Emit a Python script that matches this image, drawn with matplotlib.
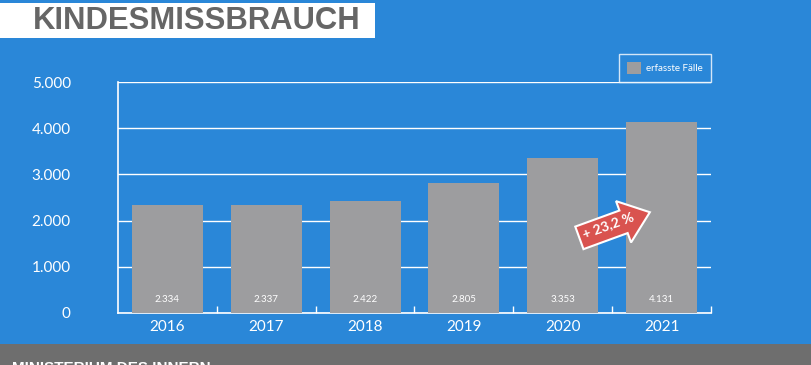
import matplotlib
matplotlib.use("Agg")
import matplotlib.pyplot as plt
import matplotlib.patches as mpatches
import matplotlib.transforms as mtransforms

years = ["2016", "2017", "2018", "2019", "2020", "2021"]
cases = [2334, 2337, 2422, 2805, 3353, 4131]
value_labels = ["2.334", "2.337", "2.422", "2.805", "3.353", "4.131"]
yticks = [0, 1000, 2000, 3000, 4000, 5000]
ytick_labels = ["0", "1.000", "2.000", "3.000", "4.000", "5.000"]
title = "KINDESMISSBRAUCH"
legend_label = "erfasste Fälle"
change_label = "+ 23,2 %"
footer = "MINISTERIUM DES INNERN"

BLUE = "#2a87d8"
BAR = "#9d9d9f"
RED = "#d9534f"

plt.rcParams['font.family'] = ['Lato', 'DejaVu Sans']

W, H = 812, 365
fig = plt.figure(figsize=(W/100, H/100), dpi=100, facecolor=BLUE)

# title banner
fig.add_artist(mpatches.Rectangle((0, 1-38/H), 375/W, 35/H, transform=fig.transFigure,
                                  facecolor="white", edgecolor="none", zorder=1))
fig.text(33/W, 1-21/H, title, fontsize=22.3, fontweight="bold", color="#666666",
         family=["Liberation Sans"], va="center", ha="left", zorder=2)

# footer band
fig.add_artist(mpatches.Rectangle((0, 0), 1, 21/H, transform=fig.transFigure,
                                  facecolor="#6e6e6e", edgecolor="none", zorder=1))
fig.text(12/W, 1-361/H, footer, fontsize=11, fontweight="bold", color="white",
         family=["Liberation Sans"], va="top", ha="left", zorder=2)

ax = fig.add_axes([118/W, 1-313/H, (711-118)/W, (313-82)/H])
ax.set_facecolor(BLUE)
x = list(range(len(years)))
ax.bar(x, cases, width=0.72, color=BAR, zorder=3, label=legend_label)
ax.set_xlim(-0.5, 5.5)
ax.set_ylim(0, 5000)
ax.set_yticks(yticks)
ax.set_yticklabels(ytick_labels)
ax.grid(axis="y", color="white", linewidth=1, zorder=1)
ax.set_axisbelow(True)
ax.tick_params(axis="y", length=0, colors="white", labelsize=11, pad=34)
for lab in ax.get_yticklabels():
    lab.set_horizontalalignment("right")
ax.set_xticks([i + 0.5 for i in x])
ax.set_xticklabels([])
ax.tick_params(axis="x", direction="in", length=5, color="white", width=1)
for s in ["top", "right"]:
    ax.spines[s].set_visible(False)
for s in ["left", "bottom"]:
    ax.spines[s].set_color("white")
    ax.spines[s].set_linewidth(1.2)

for xi, yr, vl in zip(x, years, value_labels):
    ax.text(xi, -150, yr, ha="center", va="top", color="white", fontsize=11)
    ax.text(xi, 300, vl, ha="center", va="center", color="white", fontsize=7, zorder=5)

leg = ax.legend(loc="lower right", bbox_to_anchor=(1.0, 1.0), borderaxespad=0,
                frameon=True, fancybox=False, fontsize=7, handlelength=1.4,
                handleheight=1.6, borderpad=0.8, handletextpad=0.6,
                labelcolor="white")
leg.get_frame().set_facecolor(BLUE)
leg.get_frame().set_edgecolor("white")
leg.get_frame().set_linewidth(1)

# growth arrow
ang = 20
pts = [(-37, -12), (10, -12), (10, -22), (38, 0), (10, 22), (10, 12), (-37, 12)]
base = (4.52, 1900)
tr = (mtransforms.Affine2D().rotate_deg(ang).scale(1/100) + fig.dpi_scale_trans
      + mtransforms.ScaledTranslation(base[0], base[1], ax.transData))
arrow = mpatches.Polygon(pts, closed=True, facecolor=RED, edgecolor="white",
                         linewidth=1.5, transform=tr, zorder=6, clip_on=False)
ax.add_patch(arrow)
ax.text(-6/100, 0, change_label, transform=fig.dpi_scale_trans
        + mtransforms.ScaledTranslation(base[0], base[1], ax.transData),
        rotation=ang, rotation_mode="anchor", ha="center", va="center",
        color="white", fontsize=10, fontweight="bold", zorder=7)

fig.savefig("out.png", dpi=100, facecolor=BLUE)
